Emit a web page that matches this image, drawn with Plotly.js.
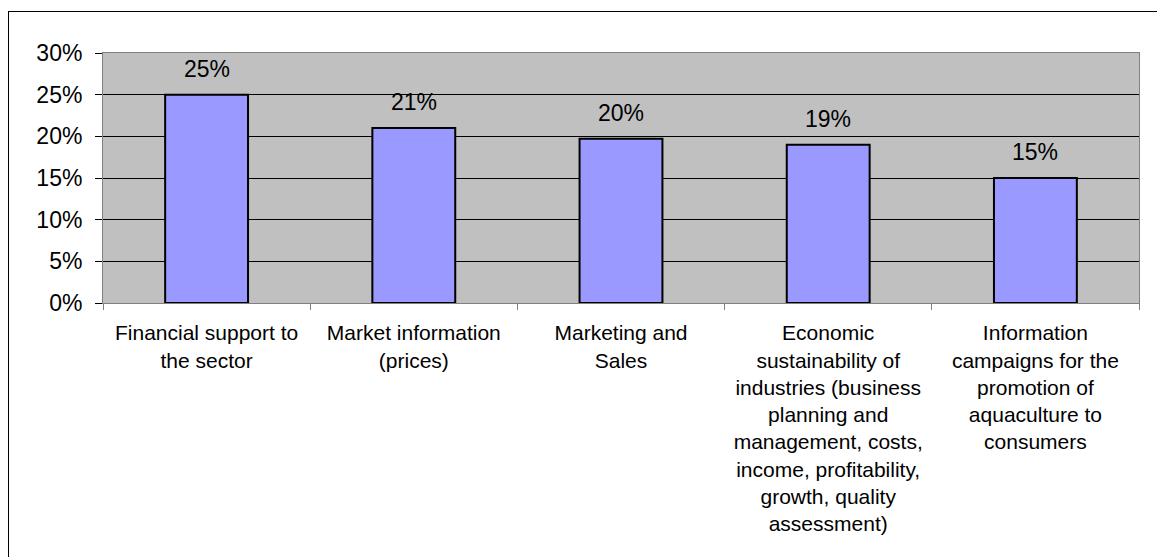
<!DOCTYPE html>
<html>
<head>
<meta charset="utf-8">
<script src="https://cdn.plot.ly/plotly-3.0.1.min.js"></script>
<style>
  html, body { margin: 0; padding: 0; background: #fff; }
  #wrap { position: relative; width: 1157px; height: 557px; overflow: hidden; }
  #chart { position: absolute; left: 0; top: 0; width: 1157px; height: 557px; }
  #frame { position: absolute; left: 8px; top: 11px; width: 1160px; height: 560px;
           border-left: 1px solid #000; border-top: 1px solid #000; pointer-events: none; }
</style>
</head>
<body>
<div id="wrap">
  <div id="chart"></div>
  <div id="frame"></div>
</div>
<script>
const categories = [
  "Financial support to<br>the sector",
  "Market information<br>(prices)",
  "Marketing and<br>Sales",
  "Economic<br>sustainability of<br>industries (business<br>planning and<br>management, costs,<br>income, profitability,<br>growth, quality<br>assessment)",
  "Information<br>campaigns for the<br>promotion of<br>aquaculture to<br>consumers"
];
const values = [25.0, 21.0, 19.7, 19.0, 15.0];
const yTicks = [0, 5, 10, 15, 20, 25, 30];

const FONT = "'Liberation Sans', Arial, sans-serif";

const trace = {
  type: 'bar',
  x: categories,
  y: values,
  width: 0.4,
  marker: { color: '#9999FF', line: { color: '#000000', width: 2 } },
  hoverinfo: 'none'
};

const annotations = categories.map((c, i) => ({
  x: c,
  y: values[i],
  xref: 'x',
  yref: 'y',
  text: Math.round(values[i]) + '%',
  showarrow: false,
  yanchor: 'bottom',
  yshift: 11,
  font: { family: FONT, size: 23, color: '#000' }
}));

const layout = {
  width: 1157,
  height: 557,
  margin: { l: 103, r: 18, t: 53, b: 254 },
  paper_bgcolor: 'rgba(0,0,0,0)',
  plot_bgcolor: '#C0C0C0',
  showlegend: false,
  bargap: 0.6,
  font: { family: FONT, size: 21, color: '#000' },
  xaxis: {
    type: 'category',
    showline: true,
    linecolor: '#808080',
    linewidth: 1,
    mirror: true,
    ticks: 'outside',
    tickson: 'boundaries',
    ticklen: 6,
    tickcolor: '#808080',
    tickangle: 0,
    ticklabelstandoff: 11,
    tickfont: { family: FONT, size: 21, color: '#000' },
    showgrid: false
  },
  yaxis: {
    range: [0, 30],
    tickvals: yTicks,
    ticktext: yTicks.map(v => v + '%'),
    showline: true,
    linecolor: '#808080',
    linewidth: 1,
    mirror: true,
    ticks: 'outside',
    ticklen: 7,
    tickcolor: '#000',
    showgrid: true,
    gridcolor: '#000',
    gridwidth: 1,
    zeroline: false,
    ticklabelstandoff: 8,
    tickfont: { family: FONT, size: 23, color: '#000' }
  },
  annotations: annotations
};

Plotly.newPlot('chart', [trace], layout, { staticPlot: true, displayModeBar: false });
</script>
</body>
</html>
